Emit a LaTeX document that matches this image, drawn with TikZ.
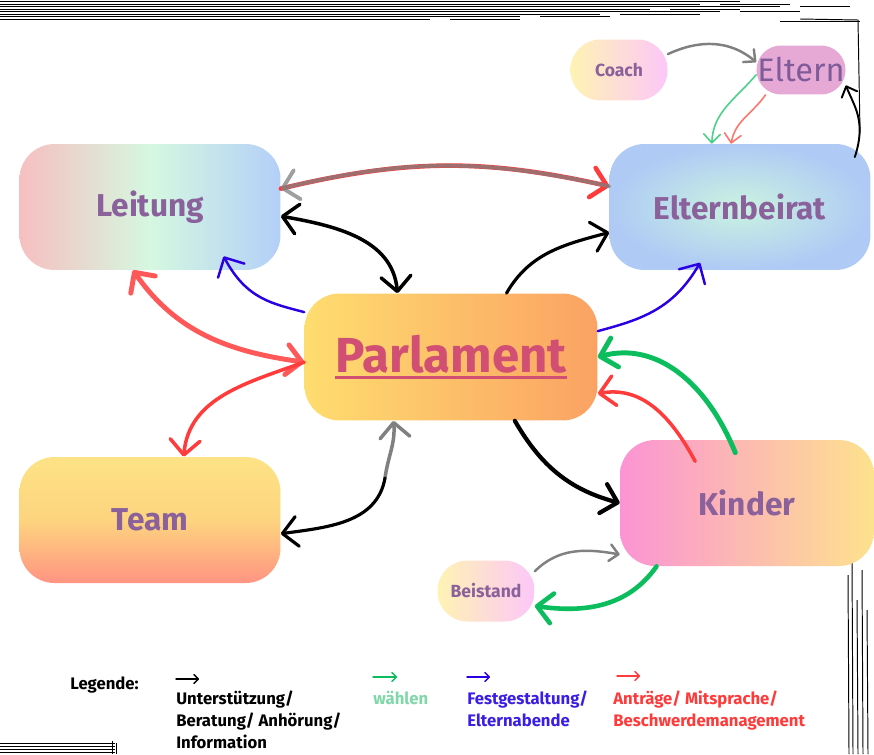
\documentclass[tikz,border=0pt]{standalone}
\usepackage{fontspec}
\setmainfont{Fira Sans}
\usetikzlibrary{arrows.meta}
\usetikzlibrary{calc}

\definecolor{txtpurple}{HTML}{8A619B}
\definecolor{parlred}{HTML}{D24F74}
\definecolor{leitL}{HTML}{F6BFC0}
\definecolor{leitM}{HTML}{D5F8E0}
\definecolor{leitR}{HTML}{B4CFF8}
\definecolor{beiratIn}{HTML}{CAF3E0}
\definecolor{beiratOut}{HTML}{AFCAF5}
\definecolor{parlL}{HTML}{FEDD6F}
\definecolor{parlR}{HTML}{FBA263}
\definecolor{teamT}{HTML}{FDE385}
\definecolor{teamM}{HTML}{FDD47F}
\definecolor{teamB}{HTML}{FF9482}
\definecolor{kindL}{HTML}{FB94D4}
\definecolor{kindR}{HTML}{FDE28D}
\definecolor{pillL}{HTML}{FEF3B4}
\definecolor{pillR}{HTML}{FCC7F8}
\definecolor{elternfill}{HTML}{E6A9D6}
\definecolor{elterntext}{HTML}{7F5C99}
\definecolor{linkred}{HTML}{FF3B3B}
\definecolor{linkgray}{HTML}{808080}
\definecolor{linkgreen}{HTML}{0BBD5C}
\definecolor{linkblue}{HTML}{2A00E3}
\definecolor{elterngreen}{HTML}{4CD08A}
\definecolor{elternred}{HTML}{FF766E}
\definecolor{legendgreen}{HTML}{80D7A7}
\definecolor{legendblue}{HTML}{3A1EE6}
\definecolor{legendred}{HTML}{FF3A3A}

\newsavebox{\parlbox}
\newcommand{\parlline}[1]{\sbox{\parlbox}{#1}\rlap{\usebox{\parlbox}}\rule[-4pt]{\wd\parlbox}{1.6pt}}

\tikzset{>={Straight Barb[length=8.5pt,width=17pt,round]}}

\begin{document}
\begin{tikzpicture}[x=0.02cm, y=0.02cm,
  box/.style={rounded corners=0.7cm, minimum width=5.22cm, minimum height=2.52cm, text=txtpurple, font={\fontsize{18pt}{20pt}\selectfont\bfseries}},
  pill/.style={rounded corners=0.6cm, minimum width=1.94cm, minimum height=1.22cm, text=txtpurple, font={\fontsize{10pt}{12pt}\selectfont\bfseries}},
  link/.style={line cap=round, line join=round},
  thin head/.style={>={Straight Barb[length=5pt,width=9.5pt,round]}},
  legend head/.style={>={Straight Barb[length=2.5pt,width=5pt,round]}},
  legend/.style={anchor=north west, align=left, inner sep=0pt, font={\fontsize{9.5pt}{12.5pt}\selectfont\bfseries}},
  sketch/.style={line width=0.55pt, black}
]
\useasboundingbox (0,0) rectangle (874,-754);
\fill[white] (0,0) rectangle (874,-754);

% sketchy frame
\foreach \y/\len in {1.5/740, 4/700, 6.5/780, 9/650, 11.5/720, 14/600, 16.5/520, 19/430}
  \draw[sketch] (0,-\y) -- (\len,-\y);
\foreach \y/\a/\b in {4/720/790, 6.5/800/850, 9/670/740, 11.5/740/800, 14/620/700, 16.5/540/610, 19/450/520, 21/780/860}
  \draw[sketch] (\a,-\y) -- (\b,-\y);
\draw[sketch] (800,-19) -- (858,-20) -- (860,-132);
\foreach \x/\top in {848/575, 852/560, 857/600, 862/570, 867/610}
  \draw[sketch] (\x,-\top) -- (\x+1,-754);
\foreach \y in {743, 746, 749, 752}
  \draw[sketch] (0,-\y) -- (115,-\y);
\draw[sketch] (112,-741) -- (112,-754);
\draw[sketch] (116,-743) -- (116,-754);

% boxes
\node[box, left color=leitL, right color=leitR, middle color=leitM] (Leitung) at (150,-207) {Leitung};
\node[box, inner color=beiratIn, outer color=beiratOut] (Beirat) at (740,-207) {Elternbeirat};
\node[box, minimum width=5.86cm, minimum height=2.54cm, left color=parlL, right color=parlR, text=parlred, font={\fontsize{28pt}{30pt}\selectfont\bfseries}] (Parlament) at (451,-357) {\parlline{Parlament}};
\node[box, top color=teamT, bottom color=teamB, middle color=teamM] (Team) at (150,-520) {Team};
\node[box, minimum width=5.08cm, left color=kindL, right color=kindR] (Kinder) at (747,-503) {Kinder};

\node[pill, left color=pillL, right color=pillR] (Coach) at (619,-70) {Coach};
\node[pill, minimum width=1.78cm, minimum height=0.98cm, rounded corners=0.49cm, inner sep=0pt, fill=elternfill, text=elterntext, font={\fontsize{18.5pt}{20pt}\selectfont}] (Eltern) at (801,-70) {Eltern};
\node[pill, left color=pillL, right color=pillR] (Beistand) at (486,-591) {Beistand};

% Leitung <-> Elternbeirat
\draw[link, line width=2.6pt, linkred, ->] (Leitung.8) to[bend left=13] (Beirat.171);
\draw[link, line width=2.2pt, linkgray, opacity=0.75, ->] (Beirat.171) to[bend right=13] (Leitung.8);

% Leitung, Elternbeirat
\draw[link, line width=2pt, <->] (Leitung.-4) to[out=-10, in=95] (Parlament.130);
\draw[link, line width=1.8pt, ->] (Parlament.49) to[out=60, in=195] (Beirat.191);
\draw[link, line width=1.4pt, linkblue, ->, shorten >=-9pt] (Parlament.163) to[out=165, in=-62] (Leitung.-38);
\draw[link, line width=1.4pt, linkblue, ->, shorten >=-5pt] (Parlament.10) to[out=15, in=-120] (Beirat.-125);

% Antraege
\draw[link, line width=2.8pt, linkred!85!white, <->] (Leitung.-105) to[out=-55, in=172] (Parlament.182);
\draw[link, line width=2pt, linkred, ->] (Parlament.182) to[out=200, in=85] (Team.62);

% Team
\coordinate (TP) at (385,-478);
\draw[link, line width=2pt, linkgray, ->] (TP) to[out=82, in=-85] (Parlament.-132);
\draw[link, line width=1.8pt, ->] (TP) to[out=-100, in=8] (Team.-6);

% Kinder
\draw[link, line width=2.4pt, ->] (Parlament.-45) to[out=-60, in=165] (Kinder.180);
\draw[link, line width=2.8pt, linkgreen, ->, shorten <=-8pt] (Kinder.105) to[out=112, in=15] (Parlament.0);
\draw[link, line width=2pt, linkred, ->, shorten <=-14pt] (Kinder.135) to[out=118, in=10] (Parlament.-14);
\draw[link, line width=2.6pt, linkgreen, ->] (Kinder.-145) to[out=-125, in=-8] (Beistand.-17);
\draw[link, line width=1.4pt, linkgray, thin head, ->] (Beistand.22) to[out=45, in=170] (Kinder.-158);

% Eltern
\draw[link, line width=1.4pt, linkgray, thin head, ->] (Coach.18) to[out=25, in=140] (Eltern.170);
\draw[link, line width=0.9pt, elterngreen, thin head, ->] (Eltern.186) to[out=-130, in=88] (Beirat.114);
\draw[link, line width=0.9pt, elternred, thin head, ->] (Eltern.-145) to[out=-125, in=80] (Beirat.98);
\draw[link, line width=1.1pt, thin head, ->, shorten <=-8pt] (Beirat.28) to[out=72, in=-68] (Eltern.-19);

% legend
\node[legend] (lgTitle) at (70,-676) {Legende:};
\node[legend] (lgSupport) at (176,-691) {Unterstützung/\\Beratung/ Anhörung/\\Information};
\node[legend, text=legendgreen] (lgElect) at (373,-691) {wählen};
\node[legend, text=legendblue] (lgFest) at (467,-691) {Festgestaltung/\\Elternabende};
\node[legend, text=legendred] (lgPetition) at (613,-691) {Anträge/ Mitsprache/\\Beschwerdemanagement};

\draw[link, line width=0.8pt, legend head, ->] ($(lgSupport.north west)+(0,12)$) -- ++(23,0);
\draw[link, line width=0.8pt, legend head, linkgreen, ->] ($(lgElect.north west)+(0,14)$) -- ++(24,0);
\draw[link, line width=0.8pt, legend head, linkblue, ->] ($(lgFest.north west)+(0,14)$) -- ++(23,0);
\draw[link, line width=0.8pt, legend head, linkred, ->] ($(lgPetition.north west)+(4,15)$) -- ++(23,0);
\end{tikzpicture}
\end{document}
